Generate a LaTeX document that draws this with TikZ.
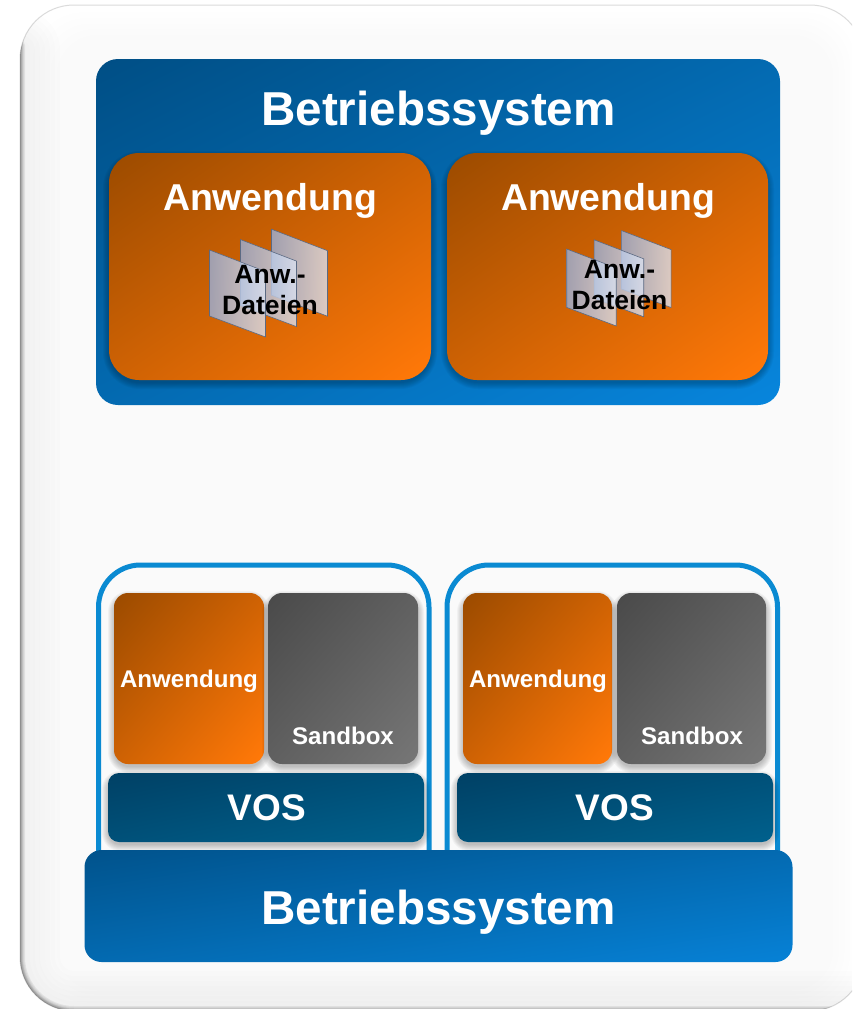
\documentclass[tikz,border=0pt]{standalone}
\usepackage{fontspec}
\setmainfont{Liberation Sans}
\definecolor{bluedark}{HTML}{004F86}
\definecolor{bluelight}{HTML}{0785DC}
\definecolor{orgdark}{HTML}{9E4C00}
\definecolor{orglight}{HTML}{FF7808}
\definecolor{grydark}{HTML}{4B4B4B}
\definecolor{grylight}{HTML}{757575}
\definecolor{vosdark}{HTML}{003F63}
\definecolor{voslight}{HTML}{00628F}
\definecolor{panel}{HTML}{FAFAFA}
\definecolor{edgeblue}{HTML}{0A8AD2}
\definecolor{glassa}{HTML}{98B0DA}
\definecolor{glassb}{HTML}{DCE2F0}
\pgfdeclareverticalshading{diagO}{100bp}{color(0bp)=(orglight); color(17bp)=(orglight); color(83bp)=(orgdark); color(100bp)=(orgdark)}
\pgfdeclareverticalshading{diagB}{100bp}{color(0bp)=(bluelight); color(17bp)=(bluelight); color(83bp)=(bluedark); color(100bp)=(bluedark)}
\pgfdeclareverticalshading{diagG}{100bp}{color(0bp)=(grylight); color(17bp)=(grylight); color(83bp)=(grydark); color(100bp)=(grydark)}
\pgfdeclareverticalshading{diagV}{100bp}{color(0bp)=(voslight); color(17bp)=(voslight); color(83bp)=(vosdark); color(100bp)=(vosdark)}
\tikzset{
  x=1pt,y=-1pt,
  osbox/.style={rounded corners=22pt,shading=diagB,shading angle=27},
  osbase/.style={rounded corners=17pt,shading=diagB,shading angle=9},
  appbig/.style={shading=diagO,shading angle=35},
  appsmall/.style={shading=diagO,shading angle=49},
  sandbox/.style={shading=diagG,shading angle=49},
  vosbox/.style={shading=diagV,shading angle=12},
  vmframe/.style={draw=edgeblue,line width=5pt,rounded corners=42pt},
  lblA/.style={text=white,font=\bfseries\fontsize{47.6}{50}\selectfont,inner sep=0pt},
  lblB/.style={text=white,font=\bfseries\fontsize{37.4}{40}\selectfont,inner sep=0pt},
  lblC/.style={text=white,font=\bfseries\fontsize{24.1}{28}\selectfont,inner sep=0pt},
  lblD/.style={text=white,font=\bfseries\fontsize{37}{42}\selectfont,inner sep=0pt},
  lblF/.style={text=black,font=\bfseries\fontsize{26.5}{31}\selectfont,inner sep=0pt,align=center},
  sheet/.style={draw=glassa!60!black,line width=.6pt,left color=glassa,right color=glassb,fill opacity=.8},
}
\newcommand{\softbox}[6]{% style, x1,y1,x2,y2, radius
  \foreach \i in {7,6,5,4,3,2,1}{
    \pgfmathsetmacro{\rr}{#6+\i}
    \fill[black,opacity=.035,rounded corners=\rr pt] (#2-\i+1,#3-\i+5) rectangle (#4+\i-1,#5+\i+2);
  }
  \path[#1,rounded corners=#6pt] (#2,#3) rectangle (#4,#5);}
\newcommand{\sheets}[3]{%
  \begin{scope}[shift={(#1,#2)},x=#3pt,y=-#3pt]
    \foreach \dx/\dy in {62/-20.8,31/-10.4,0/0}{
      \shade[sheet] (\dx,\dy) -- (\dx+56,\dy+21.5) -- (\dx+56,\dy+87) -- (\dx,\dy+66) -- cycle;
    }
  \end{scope}}
\begin{document}
\begin{tikzpicture}
\useasboundingbox (0,0) rectangle (852,1009);
\fill[white] (0,0) rectangle (852,1009);
% outer panel
\begin{scope}
  \clip (0,0) rectangle (852,1009);
  \draw[black!14,line width=1pt,rounded corners=54pt] (20,5) rectangle (864,1011);
  \clip[rounded corners=54pt] (20,5) rectangle (864,1011);
  \foreach \t in {0,...,10}{
    \pgfmathsetmacro{\mx}{\t*10}
    \pgfmathsetmacro{\rr}{52-\t*1.2}
    \fill[panel!\mx!white,rounded corners=\rr pt] (30+3*\t,10+2.8*\t) rectangle (858-2.8*\t,1008-2*\t);
  }
  \foreach \w in {10,20,30,40,50,60,70,80}{
    \draw[black,opacity=.009,line width=\w pt,rounded corners=54pt,line cap=round] (20,50) -- (20,1011) -- (864,1011);
  }
  \foreach \w in {2,3,4,5,6,8,10}{
    \draw[black,opacity=.055,line width=\w pt,rounded corners=54pt,line cap=round] (20,45) -- (20,1011) -- (864,1011);
  }
\end{scope}
% upper OS
\path[osbox] (96,59) rectangle (780,405);
\node[lblA] (ostop) at (438.5,113) {Betriebssystem};
\softbox{appbig}{109}{153}{431}{380}{30}
\softbox{appbig}{447}{153}{768}{380}{30}
\node[lblB] (appa) at (270,201) {Anwendung};
\node[lblB] (appb) at (608,201) {Anwendung};
\sheets{209.5}{250}{1}
\node[lblF] (fa) at (270,290) {Anw.-\\Dateien};
\sheets{566.7}{249}{.885}
\node[lblF] (fb) at (619.5,285) {Anw.-\\Dateien};
% VM frames
\path[vmframe] (98.5,860) -- (98.5,565) -- (429,565) -- (429,860);
\path[vmframe] (447,860) -- (447,565) -- (777.5,565) -- (777.5,860);
% contents
\softbox{appsmall}{114}{593}{264}{764}{14}
\softbox{sandbox}{268}{593}{418}{764}{14}
\softbox{vosbox}{108}{773}{424}{842}{11}
\softbox{appsmall}{463}{593}{612}{764}{14}
\softbox{sandbox}{617}{593}{766}{764}{14}
\softbox{vosbox}{457}{773}{773}{842}{11}
\node[lblC] (la) at (189,681) {Anwendung};
\node[lblC] (sa) at (343,736) {Sandbox};
\node[lblD] (va) at (267,808) {VOS};
\node[lblC] (lb) at (538,681) {Anwendung};
\node[lblC] (sb) at (692,736) {Sandbox};
\node[lblD] (vb) at (615,808) {VOS};
% lower OS
\path[osbase] (84.5,850) rectangle (792.5,962);
\node[lblA] (osbot) at (438.5,912) {Betriebssystem};
\end{tikzpicture}
\end{document}
